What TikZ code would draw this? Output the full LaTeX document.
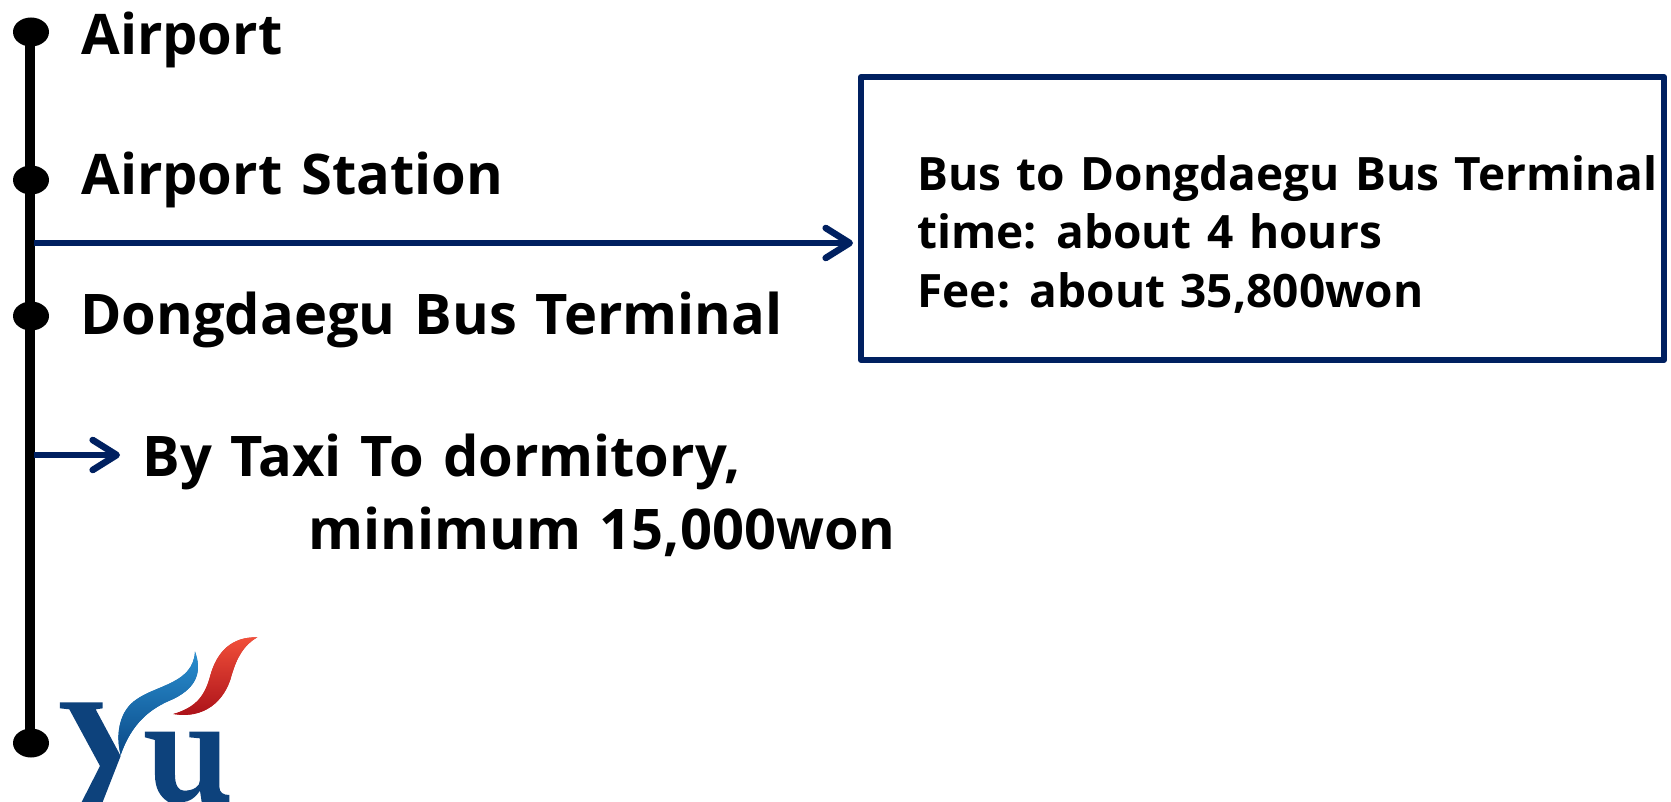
\documentclass[tikz,border=0pt]{standalone}
\usepackage{fontspec}
\setmainfont[WordSpace=1.3]{Open Sans}
\usepackage{xcolor}
\usetikzlibrary{arrows.meta,shapes.geometric}
\definecolor{navy}{HTML}{002060}
\definecolor{logoBlue}{HTML}{0D427C}
\definecolor{swooshLight}{HTML}{2A8FD0}
\definecolor{swooshMid}{HTML}{1A6CAC}
\definecolor{swooshDark}{HTML}{0B4A88}
\definecolor{flameLight}{HTML}{F2503A}
\definecolor{flameMid}{HTML}{CC2F29}
\definecolor{flameDark}{HTML}{A80F18}
\tikzset{
  railEdge/.style={draw=black, line width=4.8pt},
  stopDot/.style={ellipse, fill=black, inner sep=0pt, minimum width=18pt, minimum height=14.5pt},
  stopLbl/.style={anchor=base west, inner sep=0pt, font=\fontsize{28}{34}\selectfont\bfseries},
  infoLbl/.style={anchor=base west, inner sep=0pt, font=\fontsize{23}{29}\selectfont\bfseries},
  infoBox/.style={draw=navy, line width=3pt, rectangle, inner sep=0pt, outer sep=0pt, line join=round,
    minimum width=401.5pt, minimum height=141.5pt},
  navyArrow/.style={draw=navy, line width=3pt,
    -{Straight Barb[round, length=12pt, width=15pt, line width=3.3pt]}},
}
\newcommand{\SwooshPath}{(362,405) .. controls (345,340) and (360,270) .. (410,238)
      .. controls (470,195) and (580,190) .. (585,95)
      .. controls (605,150) and (595,200) .. (520,237)
      .. controls (450,265) and (395,310) .. (362,405) -- cycle}
\newcommand{\FlamePath}{(520,282) .. controls (590,262) and (615,225) .. (630,170)
      .. controls (650,95) and (695,50) .. (772,52)
      .. controls (730,75) and (710,115) .. (695,165)
      .. controls (675,245) and (610,298) .. (520,282) -- cycle}
\newcommand{\DrawYuLogo}{%
  \begin{scope}[shift={(0,620)}, scale=0.33333]
    \fill[logoBlue] (180,247) -- (308,247) -- (308,265) -- (287,268) -- (362,408) -- (308,546)
      -- (245,546) -- (300,438) -- (208,268) -- (180,265) -- cycle;
    \fill[logoBlue] (435,335) -- (525,335) -- (525,465) .. controls (525,495) and (535,512) .. (552,512)
      .. controls (580,512) and (600,500) .. (600,480) -- (600,355) -- (568,352) -- (568,335) -- (658,335)
      -- (658,500) .. controls (658,518) and (670,525) .. (688,525) -- (688,546) -- (605,546) -- (600,512)
      .. controls (585,535) and (565,546) .. (550,546) -- (505,546)
      .. controls (480,530) and (465,505) .. (465,465) -- (465,360) -- (435,352) -- cycle;
    \fill[swooshMid] \SwooshPath;
    \shade[bottom color=swooshDark, top color=swooshLight] \SwooshPath;
    \fill[flameMid] \FlamePath;
    \shade[bottom color=flameDark, top color=flameLight] \FlamePath;
  \end{scope}%
}
\begin{document}
\begin{tikzpicture}[x=0.5pt, y=-0.5pt]
  \useasboundingbox (0,0) rectangle (1671,802);

  \node[stopDot] (dotAirport) at (31,32) {};
  \node[stopDot] (dotStation) at (31,180) {};
  \node[stopDot] (dotTerminal) at (31,316) {};
  \node[stopDot] (dotEnd) at (31,743) {};
  \draw[railEdge] (29.7,32) -- (29.7,743);

  \node[stopLbl] (lblAirport) at (81,55) {Airport};
  \node[stopLbl] (lblStation) at (81,195) {Airport Station};
  \node[stopLbl] (lblTerminal) at (80,335) {Dongdaegu Bus Terminal};

  \node[infoBox, anchor=north west] (busBox) at (861,77) {};
  \node[infoLbl] (busLine) at (917,191) {Bus to Dongdaegu Bus Terminal};
  \node[infoLbl] (timeLine) at (917,249) {time: about 4 hours};
  \node[infoLbl] (feeLine) at (917,307) {Fee: about 35,800won};

  \coordinate (busStart) at (34,243);
  \coordinate (busEnd) at (853,243);
  \draw[navyArrow] (busStart) -- (busEnd);

  \coordinate (taxiStart) at (34,455);
  \coordinate (taxiEnd) at (120,455);
  \draw[navyArrow] (taxiStart) -- (taxiEnd);

  \node[stopLbl] (taxiLine) at (142,476) {By Taxi To dormitory,};
  \node[stopLbl] (minLine) at (308,549) {minimum 15,000won};

  \DrawYuLogo
\end{tikzpicture}
\end{document}
